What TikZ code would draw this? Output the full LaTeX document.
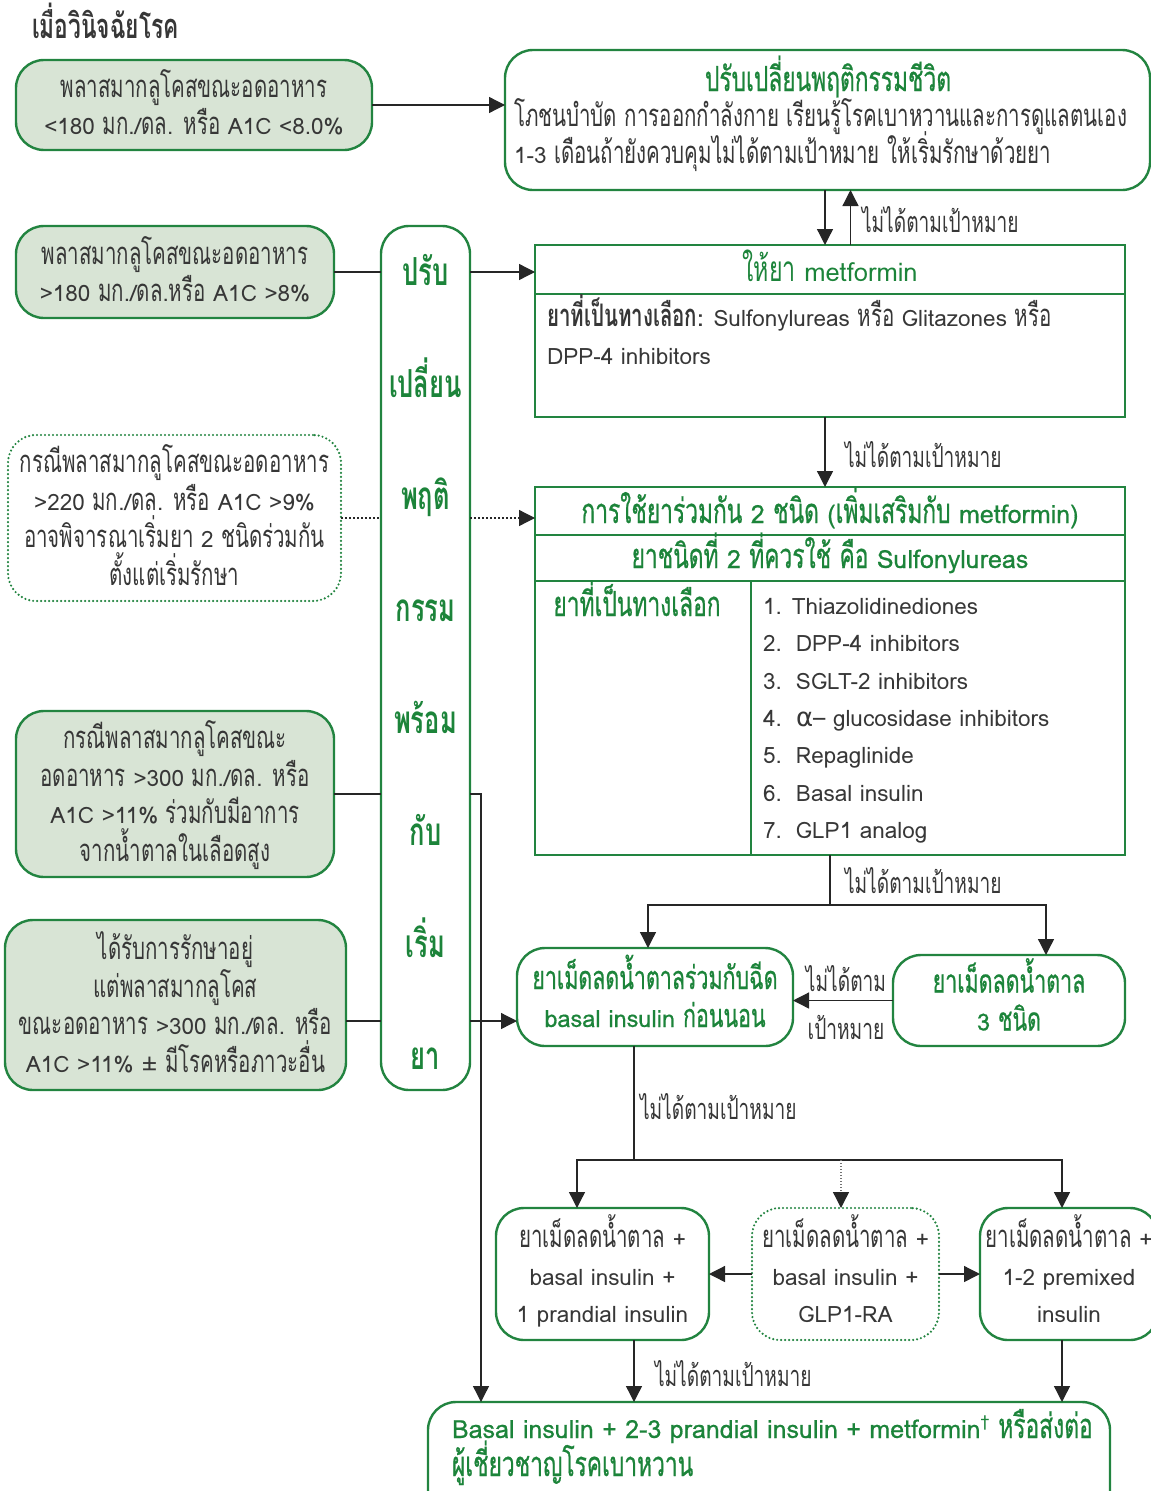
\documentclass[tikz,border=0pt]{standalone}
\usepackage{fontspec}
\setmainfont{Loma}
\newfontfamily\thaiF[Script=Thai,Scale=1.38,FakeStretch=0.66]{Loma}
\newfontfamily\thaiM[Script=Thai,Scale=1.38,FakeStretch=0.66,FakeBold=0.6]{Loma}
\newfontfamily\latinM[FakeBold=0.6]{Loma}
\newfontfamily\symfam{DejaVu Sans}
% Thai letters are set in a taller, narrower cut of the same face
\newcommand\latinF{\fontfamily{\rmdefault}\selectfont}
\let\ThaiSw\thaiF
\let\LatinSw\latinF
\XeTeXinterchartokenstate=1
\newXeTeXintercharclass\ThaiCls
\count255="0E00
\loop
  \XeTeXcharclass\count255=\ThaiCls
  \ifnum\count255<"0E7F \advance\count255 by 1
\repeat
\XeTeXinterchartoks 0 \ThaiCls = {\ThaiSw}
\XeTeXinterchartoks 4095 \ThaiCls = {\ThaiSw}
\XeTeXinterchartoks \ThaiCls 0 = {\LatinSw}
\XeTeXinterchartoks \ThaiCls 4095 = {\LatinSw}
\lineskiplimit=-100pt
% lines of centred multi-line labels: fixed top and bottom extents
\newcommand\LnA[1]{\rule{0pt}{28pt}\smash{#1}}
\newcommand\LnB[1]{\smash{#1}}
\newcommand\LnC[1]{\smash{#1}\rule[-6pt]{0pt}{6pt}}
\usetikzlibrary{arrows.meta,calc}
\definecolor{gline}{RGB}{34,132,64}
\definecolor{gfill}{RGB}{216,228,213}
\definecolor{gtext}{RGB}{28,132,58}
\definecolor{dtext}{RGB}{55,55,55}
\begin{document}
\begin{tikzpicture}[x=1pt,y=-1pt,
  every node/.style={inner sep=0pt,outer sep=0pt},
  tline/.style={text height=28pt,text depth=6pt},
  body/.style={font=\fontsize{22.5}{37.5}\selectfont,text=dtext,align=center},
  gbody/.style={font=\fontsize{25}{38}\selectfont\let\ThaiSw\thaiM\let\LatinSw\latinM\latinM,text=gtext,align=center},
  gsmall/.style={font=\fontsize{23.5}{38}\selectfont\let\ThaiSw\thaiM\let\LatinSw\latinM\latinM},
  lbl/.style={font=\fontsize{21}{24}\selectfont,text=dtext,tline},
  fillbox/.style={draw=gline,line width=2.4pt,fill=gfill,rounded corners=28pt,body},
  rbox/.style={draw=gline,line width=2.4pt,fill=white,rounded corners=28pt},
  dotbox/.style={draw=gline,line width=2.4pt,dash pattern=on 0pt off 4pt,line cap=round,rounded corners=28pt,body},
  sqbox/.style={draw=gline,line width=2.4pt,fill=white},
  conn/.style={line width=1.3pt,draw=black!85},
  tip/.style={-{Triangle[length=16pt,width=16pt]}},
  arr/.style={conn,tip},
  dotconn/.style={conn,dash pattern=on 1.5pt off 2.5pt},
  vword/.style={font=\fontsize{28}{30}\selectfont\bfseries,text=gtext,text height=33pt,text depth=7pt}
]
\clip (0,0) rectangle (1151,1491);
\useasboundingbox (0,0) rectangle (1151,1491);

% heading
\node[anchor=west,font=\fontsize{25}{28}\selectfont\bfseries,text=dtext,tline] (head) at (32,27) {เมื่อวินิจฉัยโรค};

% left-hand condition boxes
\node[fillbox,minimum width=356,minimum height=90] (a) at (194,105)
  {\LnA{พลาสมากลูโคสขณะอดอาหาร}\\ \LnC{<180 มก./ดล. หรือ A1C <8.0\%}};
\node[fillbox,minimum width=318,minimum height=92] (l) at (175,272)
  {\LnA{พลาสมากลูโคสขณะอดอาหาร}\\ \LnC{>180 มก./ดล.หรือ A1C >8\%}};
\node[dotbox,minimum width=333,minimum height=166] (m) at (174.5,518)
  {\LnA{กรณีพลาสมากลูโคสขณะอดอาหาร}\\ \LnB{>220 มก./ดล. หรือ A1C >9\%}\\ \LnB{อาจพิจารณาเริ่มยา 2 ชนิดร่วมกัน}\\ \LnC{ตั้งแต่เริ่มรักษา}};
\node[fillbox,minimum width=318,minimum height=166] (n) at (175,794)
  {\LnA{กรณีพลาสมากลูโคสขณะ}\\ \LnB{อดอาหาร >300 มก./ดล. หรือ}\\ \LnB{A1C >11\% ร่วมกับมีอาการ}\\ \LnC{จากน้ำตาลในเลือดสูง}};
\node[fillbox,minimum width=341,minimum height=170] (o) at (175.5,1005)
  {\LnA{ได้รับการรักษาอยู่}\\ \LnB{แต่พลาสมากลูโคส}\\ \LnB{ขณะอดอาหาร >300 มก./ดล. หรือ}\\ \LnC{A1C >11\% ± มีโรคหรือภาวะอื่น}};

% vertical bar
\node[rbox,minimum width=89,minimum height=864] (k) at (425.5,658) {};
\foreach \w [count=\i] in {ปรับ,เปลี่ยน,พฤติ,กรรม,พร้อม,กับ,เริ่ม,ยา}
  \node[vword] (kw\i) at (425.5,{272+112*(\i-1)}) {\w};

% lifestyle box
\node[rbox,minimum width=645,minimum height=140] (b) at (827.5,120) {};
\node[gbody,tline] (btitle) at (828,80) {ปรับเปลี่ยนพฤติกรรมชีวิต};
\node[body,anchor=base west] (bl1) at (514,126) {โภชนบำบัด การออกกำลังกาย เรียนรู้โรคเบาหวานและการดูแลตนเอง};
\node[body,anchor=base west] (bl2) at (514,163) {1-3 เดือนถ้ายังควบคุมไม่ได้ตามเป้าหมาย ให้เริ่มรักษาด้วยยา};

% metformin box
\node[sqbox,minimum width=590,minimum height=172] (c) at (830,331) {};
\draw[gline,line width=2.4pt] ($(c.north west)+(0,49)$) -- ($(c.north east)+(0,49)$);
\node[gbody,tline,font=\fontsize{25.5}{30}\selectfont] (ctitle) at (830,270) {ให้ยา metformin};
\node[body,anchor=base west] (cl1) at (547,326) {\textbf{ยาที่เป็นทางเลือก:} Sulfonylureas หรือ Glitazones หรือ};
\node[body,anchor=base west] (cl2) at (547,364) {DPP-4 inhibitors};

% two-drug combination box
\node[sqbox,minimum width=590,minimum height=368] (d) at (830,671) {};
\draw[gline,line width=2.4pt] ($(d.north west)+(0,48)$) -- ($(d.north east)+(0,48)$);
\draw[gline,line width=2.4pt] ($(d.north west)+(0,94)$) -- ($(d.north east)+(0,94)$);
\draw[gline,line width=2.4pt] ($(d.north west)+(216,94)$) -- ($(d.south west)+(216,0)$);
\node[gbody,tline] (dt1) at (830,512) {การใช้ยาร่วมกัน 2 ชนิด (เพิ่มเสริมกับ metformin)};
\node[gbody,tline] (dt2) at (830,557) {ยาชนิดที่ 2 ที่ควรใช้ คือ Sulfonylureas};
\node[gbody,tline] (dt3) at (637,605) {ยาที่เป็นทางเลือก};
\node[body,anchor=base west] (li1) at (763,614) {1. Thiazolidinediones};
\node[body,anchor=base west] (li2) at (763,651) {\makebox[33pt][l]{2.}DPP-4 inhibitors};
\node[body,anchor=base west] (li3) at (763,689) {\makebox[33pt][l]{3.}SGLT-2 inhibitors};
\node[body,anchor=base west] (li4) at (763,726) {\makebox[33pt][l]{4.}{\symfam\fontsize{26}{30}\selectfont α}– glucosidase inhibitors};
\node[body,anchor=base west] (li5) at (763,763) {\makebox[33pt][l]{5.}Repaglinide};
\node[body,anchor=base west] (li6) at (763,801) {\makebox[33pt][l]{6.}Basal insulin};
\node[body,anchor=base west] (li7) at (763,838) {\makebox[33pt][l]{7.}GLP1 analog};

% insulin steps
\node[rbox,gbody,gsmall,minimum width=276,minimum height=98] (e) at (655,997)
  {\LnA{ยาเม็ดลดน้ำตาลร่วมกับฉีด}\\ \LnC{basal insulin ก่อนนอน}};
\node[rbox,gbody,gsmall,minimum width=232,minimum height=91] (f) at (1009,1000.5)
  {\LnA{ยาเม็ดลดน้ำตาล}\\ \LnC{3 ชนิด}};
\node[rbox,body,minimum width=213,minimum height=132] (g) at (602.5,1274)
  {\LnA{ยาเม็ดลดน้ำตาล +}\\ \LnB{basal insulin +}\\ \LnC{1 prandial insulin}};
\node[dotbox,fill=white,minimum width=187,minimum height=132] (h) at (845.5,1274)
  {\LnA{ยาเม็ดลดน้ำตาล +}\\ \LnB{basal insulin +}\\ \LnC{GLP1-RA}};
\node[rbox,body,minimum width=178,minimum height=132] (i) at (1069,1274)
  {\LnA{ยาเม็ดลดน้ำตาล +}\\ \LnB{1-2 premixed}\\ \LnC{insulin}};
\node[rbox,minimum width=682,minimum height=116] (j) at (769,1460) {};
\node[gbody,anchor=base west] (jl1) at (452,1438)
  {Basal insulin + 2-3 prandial insulin + metformin\textsuperscript{\symfam †} หรือส่งต่อ};
\node[gbody,anchor=base west] (jl2) at (452,1476) {ผู้เชี่ยวชาญโรคเบาหวาน};

% routing points
\coordinate (s1) at (830,905);
\coordinate (s2) at (634,1160);
\coordinate (s3) at (841,1160);
\coordinate (t1) at (481,0);

% connectors
\draw[arr] (a.east) -- (a.east -| b.west);
\draw[arr] ([xshift=-2.5pt]b.south) -- ([xshift=-2.5pt]b.south |- c.north);
\draw[arr] ([xshift=20.5pt]c.north) -- ([xshift=20.5pt]c.north |- b.south);
\node[lbl,anchor=west] (lb1) at (862,221) {ไม่ได้ตามเป้าหมาย};

\draw[conn] (l.east) -- (l.east -| k.west);
\draw[arr] (l.east -| k.east) -- (l.east -| c.west);

\draw[dotconn] (m.east) -- (m.east -| k.west);
\draw[dotconn,tip] (m.east -| k.east) -- (m.east -| d.west);

\draw[conn] (n.east) -- (n.east -| k.west);
\draw[arr] (n.east -| k.east) -| (t1 |- j.north);

\draw[conn] ([yshift=-16pt]o.east) -- ([yshift=-16pt]o.east -| k.west);
\draw[arr] ([yshift=-16pt]o.east -| k.east) -- ([yshift=-16pt]o.east -| e.west);

\draw[arr] ([xshift=-5pt]c.south) -- ([xshift=-5pt]c.south |- d.north);
\node[lbl,anchor=west] (lb2) at (845,456) {ไม่ได้ตามเป้าหมาย};

\draw[conn] (d.south) -- (s1);
\node[lbl,anchor=west] (lb3) at (845,882) {ไม่ได้ตามเป้าหมาย};
\draw[arr] (s1) -| ([xshift=-7pt]e.north);
\draw[arr] (s1) -| ([xshift=37pt]f.north);

\draw[arr] (f.west) -- (f.west -| e.east);
\node[lbl] (lb4) at (846,980) {ไม่ได้ตาม};
\node[lbl] (lb5) at (846,1028) {เป้าหมาย};

\draw[conn] ([xshift=-21pt]e.south) -- (s2);
\node[lbl,anchor=west] (lb6) at (640,1108) {ไม่ได้ตามเป้าหมาย};
\draw[arr] (s2) -| ([xshift=-25.5pt]g.north);
\draw[arr] (s2) -| ([xshift=-7pt]i.north);
\draw[conn,draw=black!55,dash pattern=on 1pt off 2pt,-{Triangle[length=16pt,width=16pt,color=black!85]}] (s3) -- (s3 |- h.north);

\draw[arr] (h.west) -- (g.east);
\draw[arr] (h.east) -- (i.west);

\draw[arr] ([xshift=31.5pt]g.south) -- ([xshift=31.5pt]g.south |- j.north);
\node[lbl,anchor=west] (lb7) at (655,1375) {ไม่ได้ตามเป้าหมาย};
\draw[arr] ([xshift=-7pt]i.south) -- ([xshift=-7pt]i.south |- j.north);
\end{tikzpicture}
\end{document}
